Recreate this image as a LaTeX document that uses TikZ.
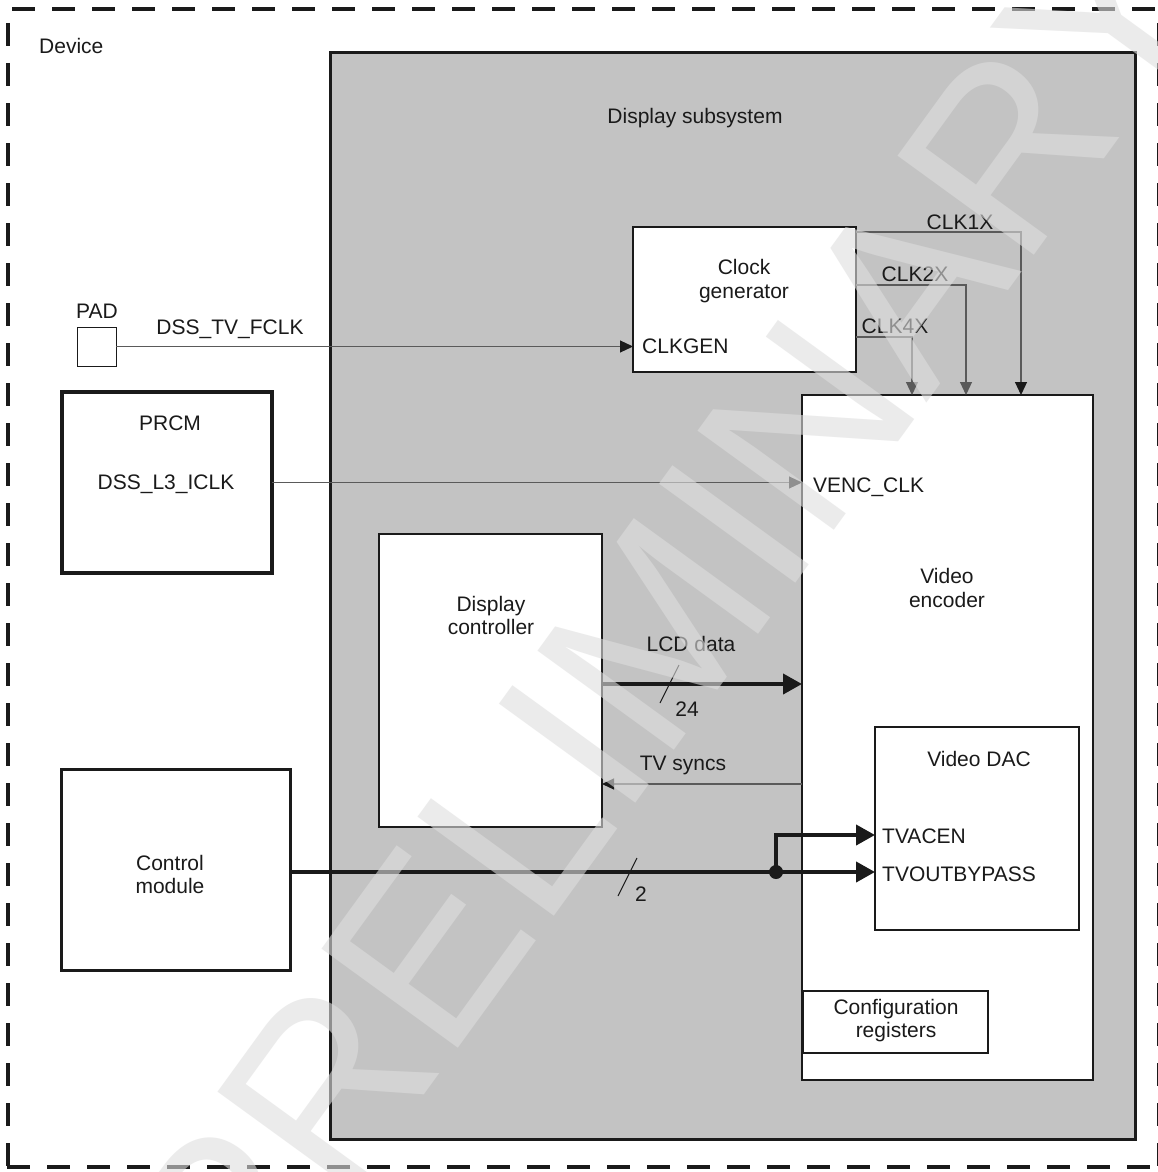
\documentclass[tikz,border=0pt]{standalone}
\usepackage{fontspec}
\setmainfont{Liberation Sans}
\usetikzlibrary{arrows.meta}
\definecolor{ssgray}{HTML}{C3C3C3}
\definecolor{wire}{HTML}{5A5A5A}
\definecolor{ink}{HTML}{1A1A1A}
\begin{document}
\begin{tikzpicture}[x=1pt,y=-1pt,
  font=\fontsize{21}{25}\selectfont,
  box/.style={draw=ink, fill=white, inner sep=0pt, outer sep=0pt, anchor=north west, line width=2pt},
  lbl/.style={text=ink, inner sep=0pt, anchor=base},
  lbll/.style={text=ink, inner sep=0pt, anchor=base west},
  wirearrow/.style={draw=wire, line width=1.1pt, -{Triangle[length=13pt,width=12pt,color=ink]}},
  greyarrow/.style={draw=wire, line width=1.1pt, -{Triangle[length=13pt,width=12pt,color=wire]}},
  busarrow/.style={draw=ink, line width=4pt, -{Triangle[length=19pt,width=20pt]}},
  devdash/.style={draw=ink, line width=4pt, dash pattern=on 23pt off 17pt}]
\useasboundingbox (0,0) rectangle (1158,1172);
\fill[white] (0,0) rectangle (1158,1172);
% device border
\draw[devdash] (12,9) -- (1175,9);
\draw[devdash] (8,23) -- (8,1180);
\draw[devdash] (7,1167) -- (1175,1167);
\draw[devdash] (1159,23) -- (1159,1180);
\node[lbll] (tdev) at (39,53) {Device};
% boxes
\node[box, line width=3pt, fill=ssgray, minimum width=805pt, minimum height=1086pt] (dss) at (330,53) {};
\node[box, line width=1pt, minimum width=39pt, minimum height=39pt] (pad) at (77,327) {};
\node[box, line width=4pt, minimum width=210pt, minimum height=181pt] (prcm) at (62,392) {};
\node[box, line width=3pt, minimum width=229pt, minimum height=201pt] (ctrl) at (61,769) {};
\node[box, minimum width=223pt, minimum height=145pt] (clk) at (633,227) {};
\node[box, minimum width=291pt, minimum height=685pt] (venc) at (802,395) {};
\node[box, minimum width=223pt, minimum height=293pt] (dc) at (379,534) {};
\node[box, minimum width=204pt, minimum height=203pt] (dac) at (875,727) {};
\node[box, minimum width=185pt, minimum height=62pt] (cfg) at (803,991) {};
% labels
\node[lbl] (tdss) at (695,123) {Display subsystem};
\node[lbl] (tpad) at (97,318) {PAD};
\node[lbl] (tfclk) at (230,334) {DSS\_TV\_FCLK};
\node[lbl] (tclk1) at (744,274) {Clock};
\node[lbl] (tclk2) at (744,298) {generator};
\node[lbll] (tclkgen) at (642,353) {CLKGEN};
\node[lbl] (tc1x) at (960,229) {CLK1X};
\node[lbl] (tc2x) at (915,281) {CLK2X};
\node[lbl] (tc4x) at (895,333) {CLK4X};
\node[lbl] (tprcm) at (170,430) {PRCM};
\node[lbl] (ticlk) at (166,489) {DSS\_L3\_ICLK};
\node[lbll] (tvenc) at (813,492) {VENC\_CLK};
\node[lbl] (tve1) at (947,583) {Video};
\node[lbl] (tve2) at (947,607) {encoder};
\node[lbl] (tdc1) at (491,611) {Display};
\node[lbl] (tdc2) at (491,634) {controller};
\node[lbl] (tlcd) at (691,651) {LCD data};
\node[lbl] (t24) at (687,716) {24};
\node[lbl] (tsync) at (683,770) {TV syncs};
\node[lbl] (tdac) at (979,766) {Video DAC};
\node[lbll] (tacen) at (882,843) {TVACEN};
\node[lbll] (tbyp) at (882,881) {TVOUTBYPASS};
\node[lbl] (t2) at (641,901) {2};
\node[lbl] (tcm1) at (170,870) {Control};
\node[lbl] (tcm2) at (170,893) {module};
\node[lbl] (tcfg1) at (896,1014) {Configuration};
\node[lbl] (tcfg2) at (896,1037) {registers};
% coordinates
\coordinate (c1) at (1021,232);
\coordinate (c2) at (966,285);
\coordinate (c4) at (912,337);
\coordinate (lcdy) at (700,684);
\coordinate (tsy) at (700,784);
\coordinate (dot) at (776,872);
\coordinate (br) at (776,835);
\coordinate (s24a) at (660,703);
\coordinate (s24b) at (679,665);
\coordinate (s2a) at (618,896);
\coordinate (s2b) at (637,858);
% connectors
\draw[wirearrow] (pad.east) -- (pad.east -| clk.west);
\draw[wirearrow] (prcm.east) -- (prcm.east -| venc.west);
\draw[wirearrow] (clk.east |- c1) -| (venc.north -| c1);
\draw[greyarrow] (clk.east |- c2) -| (venc.north -| c2);
\draw[greyarrow] (clk.east |- c4) -| (venc.north -| c4);
\draw[busarrow] (dc.east |- lcdy) -- (venc.west |- lcdy);
\draw[wirearrow, -{Triangle[length=12pt,width=11pt,color=ink]}] (venc.west |- tsy) -- (dc.east |- tsy);
\draw[draw=ink, line width=4pt] (ctrl.east |- dot) -- (dot);
\draw[busarrow] (dot) -- (dot -| dac.west);
\draw[busarrow] (dot) -- (br) -- (br -| dac.west);
\fill[ink] (dot) circle (7pt);
\draw[draw=ink, line width=1pt] (s24a) -- (s24b);
\draw[draw=ink, line width=1pt] (s2a) -- (s2b);
% watermark
\node[text=black!13, opacity=0.6, rotate=54, inner sep=0pt, font=\fontsize{245}{245}\selectfont] (wm) at (665,620) {PRELIMINARY};
\end{tikzpicture}
\end{document}
